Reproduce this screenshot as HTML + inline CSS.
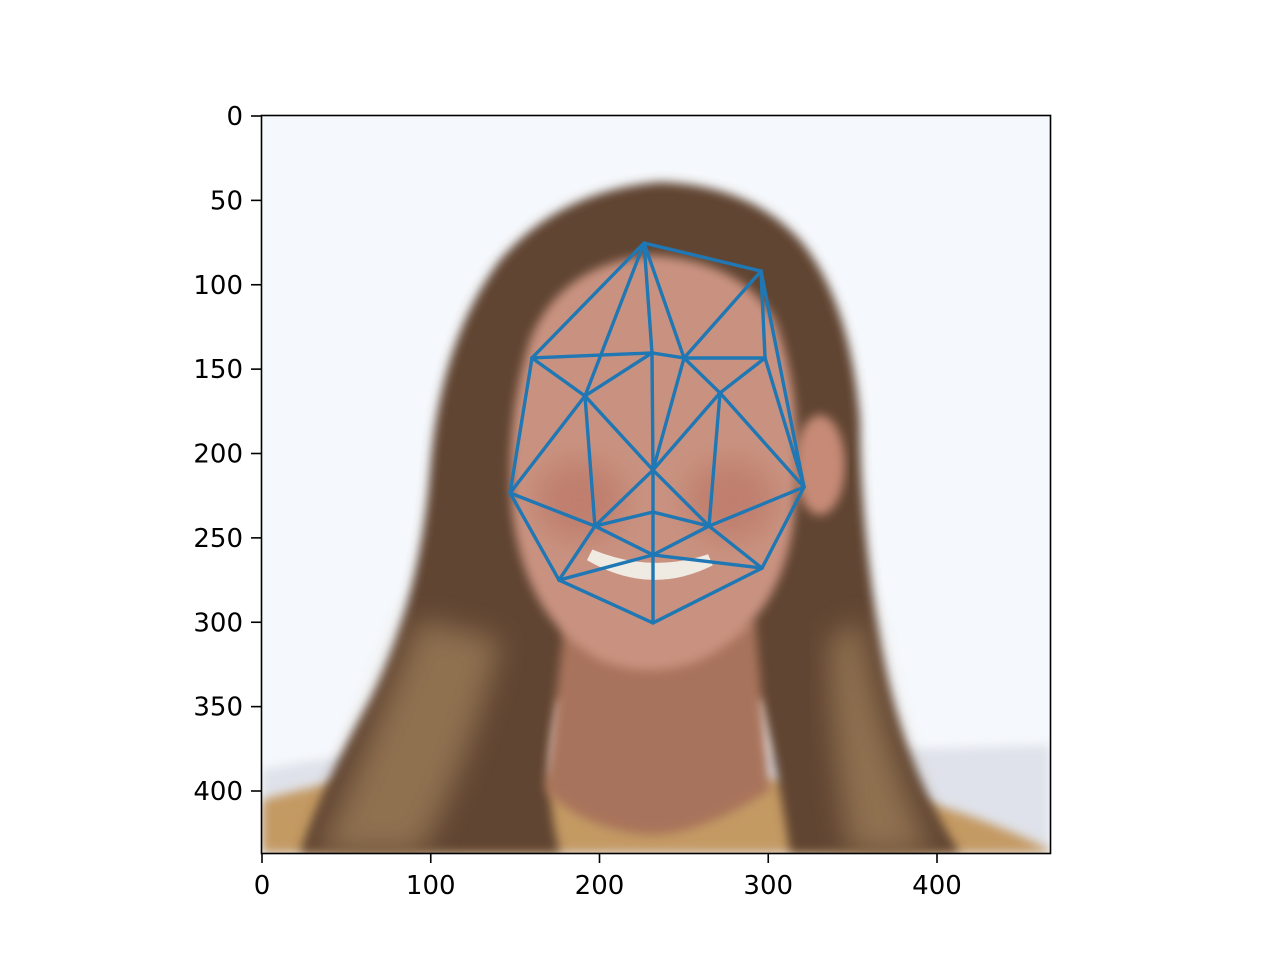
<!DOCTYPE html>
<html><head><meta charset="utf-8"><style>
body{margin:0;background:#fff;}
svg text{font-family:"DejaVu Sans","Liberation Sans",sans-serif;font-size:26px;fill:#000;}
</style></head><body>
<svg id="fig" width="1280" height="960" viewBox="0 0 1280 960" xmlns="http://www.w3.org/2000/svg">
<defs>
<clipPath id="ax"><rect x="262" y="116" width="788" height="737"/></clipPath>
<filter id="bl" x="-20%" y="-20%" width="140%" height="140%"><feGaussianBlur stdDeviation="14"/></filter>
<filter id="bl2"><feGaussianBlur stdDeviation="5"/></filter>
</defs>
<g clip-path="url(#ax)">
<rect x="262" y="116" width="788" height="737" fill="#f5f8fc"/>
<path d="M262 770 Q400 740 560 760 L1050 745 L1050 853 L262 853Z" fill="#dfe2ea" filter="url(#bl2)"/>
<path d="M262 800 Q400 760 520 775 L800 780 Q930 790 1050 850 L1050 853 L262 853Z" fill="#c49a64" filter="url(#bl2)"/>
<path d="M660 182 Q560 190 500 260 Q440 340 430 470 Q420 600 370 700 Q320 790 300 853 L560 853 Q540 780 560 700 L760 700 Q780 780 790 853 L960 853 Q900 760 880 640 Q860 520 860 420 Q850 300 800 240 Q750 185 660 182Z" fill="#614533" filter="url(#bl2)"/>
<path d="M420 620 Q380 720 320 853 L420 853 Q470 760 500 640Z" fill="#8f6f4f" filter="url(#bl)"/>
<path d="M860 620 Q880 740 930 853 L850 853 Q830 740 830 640Z" fill="#8f6f4f" filter="url(#bl)"/>
<path d="M565 620 L755 620 L770 790 Q700 835 650 835 Q585 830 545 790Z" fill="#a8735c" filter="url(#bl2)"/>
<path d="M650 255 Q560 265 530 340 Q505 420 512 510 Q525 620 600 660 Q650 680 700 660 Q785 620 795 510 Q805 400 775 320 Q740 260 650 255Z" fill="#c99280" filter="url(#bl2)"/>
<ellipse cx="580" cy="500" rx="45" ry="40" fill="#c07f6e" filter="url(#bl)"/>
<ellipse cx="730" cy="500" rx="45" ry="40" fill="#c07f6e" filter="url(#bl)"/>
<ellipse cx="820" cy="465" rx="25" ry="50" fill="#c68a76" filter="url(#bl2)"/>
<path d="M590 555 Q650 590 710 560 Q650 580 590 555Z" fill="#f2eee6" stroke="#f0ebe2" stroke-width="12"/>
</g>
<g id="mesh" clip-path="url(#ax)"></g>
<rect x="261.5" y="115.5" width="789" height="738" fill="none" stroke="#000" stroke-width="1.6"/>
<g id="ticks"></g>
</svg>
<script>
const ptNames=["A","B","C","E","F","G","H","I","J","K","L","M","N","O","P","Q","R","S"];
const ptX=[226.4,295.7,160.0,231.1,250.1,298.1,191.4,271.4,231.7,147.0,321.2,197.3,231.7,264.9,231.7,176.0,296.3,231.7];
const ptY=[75.3,91.9,143.4,140.4,143.4,143.4,165.9,164.1,209.8,223.4,219.9,243.0,234.7,243.0,260.1,275.0,267.9,300.4];
const edges=["A-B","A-C","A-H","A-E","A-F","B-F","B-G","B-L","C-E","E-F","F-G","C-H","H-E","C-K","K-H","H-J","H-M","E-J","F-J","F-I","G-I","G-L","I-L","I-J","I-O","K-M","K-Q","M-J","J-N","J-O","M-N","N-O","M-P","M-Q","P-O","P-N","P-Q","P-R","P-S","Q-S","R-S","O-R","L-O","L-R"];
const xTicks=[0,100,200,300,400];
const yTicks=[0,50,100,150,200,250,300,350,400];
const NS="http://www.w3.org/2000/svg";
const sx=v=>262+v*1.6875, sy=v=>116+v*1.6875;
const mesh=document.getElementById('mesh');
edges.forEach(e=>{
 const [a,b]=e.split('-').map(n=>ptNames.indexOf(n));
 const l=document.createElementNS(NS,'line');
 l.setAttribute('x1',sx(ptX[a]));l.setAttribute('y1',sy(ptY[a]));
 l.setAttribute('x2',sx(ptX[b]));l.setAttribute('y2',sy(ptY[b]));
 l.setAttribute('stroke','#1f77b4');l.setAttribute('stroke-width','3.4');l.setAttribute('stroke-linecap','round');
 
 
 mesh.appendChild(l);
});
const tg=document.getElementById('ticks');
xTicks.forEach(t=>{
 const x=sx(t);
 const l=document.createElementNS(NS,'line');
 l.setAttribute('x1',x);l.setAttribute('x2',x);l.setAttribute('y1',853);l.setAttribute('y2',863);l.setAttribute('stroke','#000');l.setAttribute('stroke-width','1.6');
 
 
 tg.appendChild(l);
 const tx=document.createElementNS(NS,'text');
 tx.setAttribute('x',x);tx.setAttribute('y',894);tx.setAttribute('text-anchor','middle');tx.textContent=t;
 
 
 tg.appendChild(tx);
});
yTicks.forEach(t=>{
 const y=sy(t);
 const l=document.createElementNS(NS,'line');
 l.setAttribute('x1',251);l.setAttribute('x2',261);l.setAttribute('y1',y);l.setAttribute('y2',y);l.setAttribute('stroke','#000');l.setAttribute('stroke-width','1.6');
 
 
 tg.appendChild(l);
 const tx=document.createElementNS(NS,'text');
 tx.setAttribute('x',243);tx.setAttribute('y',y+9);tx.setAttribute('text-anchor','end');tx.textContent=t;
 
 
 tg.appendChild(tx);
});
</script>
</body></html>
